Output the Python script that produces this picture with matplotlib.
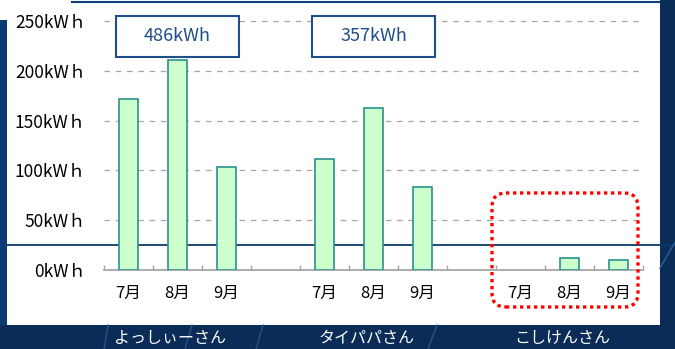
import matplotlib
matplotlib.use("Agg")
import matplotlib.pyplot as plt
from matplotlib.lines import Line2D
from matplotlib.patches import FancyBboxPatch, Rectangle
from matplotlib.transforms import IdentityTransform, blended_transform_factory

plt.rcParams["font.family"] = ["Noto Sans CJK JP", "DejaVu Sans"]

members = ["よっしぃーさん", "タイパパさん", "こしけんさん"]
months = ["7月", "8月", "9月"]
yoshii_kwh = [172, 211, 103]
taipapa_kwh = [111, 163, 83]
koshiken_kwh = [0, 12, 10]
y_ticks = [0, 50, 100, 150, 200, 250]

NAVY = "#0A2C57"
BOX_BLUE = "#1F4E8C"
GRID = "#A6A6A6"

fig = plt.figure(figsize=(6.75, 3.49), dpi=100, facecolor=NAVY)

# white slide panel and background stripes (pixel coordinates)
px = IdentityTransform()
fig.patches.append(Rectangle((0, 349 - 325), 660, 325, transform=px,
                             facecolor="#0B3B74", edgecolor="none", zorder=-4))
fig.patches.append(Rectangle((7, 349 - 325), 653, 325, transform=px,
                             facecolor="white", edgecolor="none", zorder=-3))
fig.patches.append(Rectangle((0, 349 - 20), 8, 20, transform=px,
                             facecolor="white", edgecolor="none", zorder=-3))
fig.lines.append(Line2D([7, 675], [349 - 245, 349 - 245], transform=px,
                        color="#0B3A6A", lw=1.3, zorder=-1))
fig.lines.append(Line2D([72, 660], [349 - 2, 349 - 2], transform=px,
                        color="#0B3F7F", lw=1.5, zorder=-1))
for x0, x1 in [(108, 104), (192, 185), (263, 256), (437, 428)]:
    fig.lines.append(Line2D([x0, x1], [349 - 325, 0], transform=px,
                            color="#2B5F9E", lw=1.0, alpha=0.8, zorder=-1))
fig.lines.append(Line2D([675, 660], [349 - 242, 349 - 268], transform=px,
                        color="#2B5F9E", lw=1.0, zorder=-1))

ax = fig.add_axes([104 / 675, 79 / 349, 539 / 675, 249 / 349])
ax.set_facecolor("none")

series = [yoshii_kwh, taipapa_kwh, koshiken_kwh]
positions, values, labels = [], [], []
for g, vals in enumerate(series):
    for i, v in enumerate(vals):
        positions.append(g * 4 + i)
        values.append(v)
        labels.append(months[i])

bar_x = [p for p, v in zip(positions, values) if v > 0]
bar_h = [v for v in values if v > 0]
ax.bar(bar_x, bar_h, width=0.4, color="#CCFFCC", edgecolor="#2A9090",
       linewidth=1.2, zorder=3)

ax.set_xlim(-0.5, 10.5)
ax.set_ylim(0, 250)
ax.set_xticks(positions)
ax.set_xticklabels(labels, fontsize=12)
ax.set_xticks([x - 0.5 for x in range(12)], minor=True)
ax.tick_params(axis="x", which="major", length=0, pad=11)
ax.tick_params(axis="x", which="minor", direction="in", length=3.5,
               color=GRID, width=1.0)
ax.set_yticks(y_ticks)
ax.set_yticklabels([f"{v}kWｈ" for v in y_ticks], fontsize=12.5)
ax.tick_params(axis="y", length=0, pad=13)

for v in y_ticks[1:]:
    ax.axhline(v, color=GRID, lw=0.9, ls=(0, (4.5, 4.5)), zorder=1,
               clip_on=False)

for side in ["left", "right", "top"]:
    ax.spines[side].set_visible(False)
ax.spines["bottom"].set_color(GRID)
ax.spines["bottom"].set_linewidth(1.3)

# monthly totals above the first two members
for g, vals in enumerate(series[:2]):
    cx = g * 4 + 1
    ax.add_patch(Rectangle((cx - 1.265, 214), 2.53, 41, facecolor="white",
                           edgecolor=BOX_BLUE, lw=1.5, zorder=4,
                           clip_on=False))
    ax.text(cx, 234.5, f"{sum(vals)}kWh", ha="center", va="center",
            fontsize=13, color=BOX_BLUE, zorder=5)

# member names on the bottom band
name_tf = blended_transform_factory(ax.transData, fig.transFigure)
for g, name in enumerate(members):
    ax.text(g * 4 + 1 - 0.15, 10 / 349, name, transform=name_tf, ha="center",
            va="center", fontsize=11.5, color="white", clip_on=False)

# dotted highlight around the last member
fig.patches.append(FancyBboxPatch((492, 349 - 307), 146, 114,
                                  boxstyle="round,pad=0,rounding_size=14",
                                  transform=px, facecolor="none",
                                  edgecolor="#FF0000", lw=2.4,
                                  ls=(0, (1, 1.1)), zorder=5))

fig.savefig("out.png", dpi=100, facecolor=NAVY)
